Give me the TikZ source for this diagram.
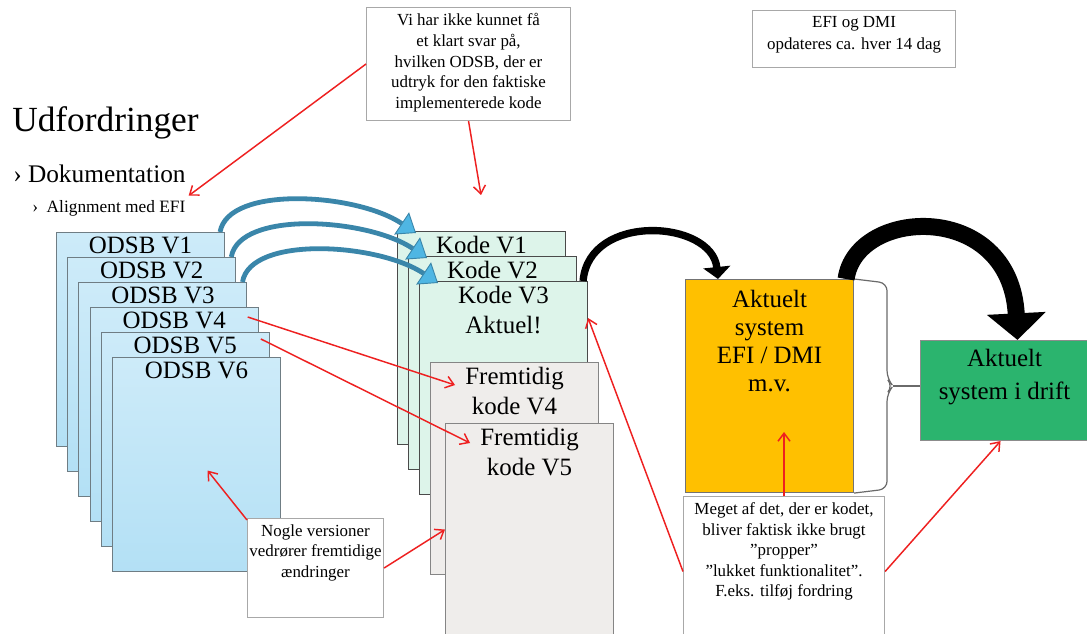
\documentclass[tikz,border=0pt]{standalone}
\usepackage{fontspec}
\setmainfont{Liberation Serif}
\usetikzlibrary{arrows.meta, calc, positioning}
\usepackage{xcolor}
\definecolor{odsbTop}{HTML}{CDEBF9}
\definecolor{odsbBottom}{HTML}{B3E0F5}
\definecolor{odsbLine}{HTML}{6F7D84}
\definecolor{kodeFill}{HTML}{DDF4EA}
\definecolor{kodeLine}{HTML}{4A4A4A}
\definecolor{futureFill}{HTML}{EFEDEB}
\definecolor{futureLine}{HTML}{858585}
\definecolor{systemOrange}{HTML}{FFC000}
\definecolor{driftGreen}{HTML}{2BB46E}
\definecolor{noteLine}{HTML}{A8A8A8}
\definecolor{braceGray}{HTML}{6A6A6A}
\definecolor{noteRed}{HTML}{EE2020}
\definecolor{bandBlue}{HTML}{3A86AA}
\definecolor{headBlue}{HTML}{4FB6E3}
\tikzset{
    boxsize/.style 2 args={minimum width=#1*0.75pt, minimum height=#2*0.75pt, inner sep=0pt},
    BoxTitle/.style={anchor=north, align=center, font=\fontsize{18.7}{22.5}\selectfont},
    NoteText/.style={anchor=north, align=center, yshift=-1.5pt, font=\fontsize{12.7}{15.4}\selectfont},
    OdsbBox/.style={draw=odsbLine, line width=0.8pt, top color=odsbTop, bottom color=odsbBottom, boxsize={168}{214}},
    KodeBox/.style={draw=kodeLine, line width=0.8pt, fill=kodeFill, boxsize={168}{213}},
    FutureBox/.style={draw=futureLine, line width=0.8pt, fill=futureFill, boxsize={168}{212}},
    SystemBox/.style={draw=black!55, line width=0.8pt, fill=systemOrange, boxsize={168}{213}},
    DriftBox/.style={draw=black!45, line width=0.8pt, fill=driftGreen, boxsize={168}{100}},
    NoteBox/.style={draw=noteLine, line width=0.8pt, fill=white},
    BlueBand/.style={draw=bandBlue, line width=3.6pt, -{Triangle[length=13pt, width=20pt, fill=headBlue, line width=0.7pt]}},
    BlackBand/.style={draw=black, line width=5.5pt, -{Triangle[length=9pt, width=20pt]}},
    BigBand/.style={draw=black, line width=12.75pt, -{Triangle[length=20pt, width=43pt]}},
    RedNote/.style={draw=noteRed, line width=1.1pt, -{Straight Barb[length=6pt, width=9pt]}}
}
\begin{document}
\begin{tikzpicture}[x=0.75pt, y=-0.75pt]
    \path[use as bounding box, fill=white] (0,0) rectangle (1087,634);

    % overskrift og punkter
    \node[anchor=base west, inner sep=0pt, font=\fontsize{26.5}{30}\selectfont] (title) at (12,132) {Udfordringer};
    \node[anchor=base west, inner sep=0pt, font=\fontsize{19}{22}\selectfont] (doc) at (13,183) {›\ Dokumentation};
    \node[anchor=base west, inner sep=0pt, font=\fontsize{13}{16}\selectfont] (alignment) at (32,213) {›\enspace Alignment med EFI};

    % ODSB stak
    \foreach \i in {1,...,6} {
        \node[OdsbBox, anchor=north west] (o\i) at ({56+11.2*(\i-1)}, {232+25*(\i-1)}) {};
        \node[BoxTitle] (ot\i) at (o\i.north) {ODSB V\i};
    }

    % kode stak
    \foreach \i/\txt in {1/{Kode V1}, 2/{Kode V2}, 3/{Kode V3\\Aktuel!}} {
        \node[KodeBox, anchor=north west] (k\i) at ({397+11*(\i-1)}, {231+25*(\i-1)}) {};
        \node[BoxTitle] (kt\i) at (k\i.north) {\txt};
    }
    \node[FutureBox, anchor=north west] (f4) at (430,362) {};
    \node[BoxTitle] (ft4) at (f4.north) {Fremtidig\\kode V4};
    \node[FutureBox, anchor=north west] (f5) at (445,423) {};
    \node[BoxTitle] (ft5) at (f5.north) {Fremtidig\\kode V5};

    % systemer
    \node[SystemBox, anchor=north west] (akt) at (685,279) {};
    \node[BoxTitle, yshift=-5pt, font=\fontsize{18.7}{21}\selectfont] (aktt) at (akt.north) {Aktuelt\\system\\EFI / DMI\\m.v.};
    \node[DriftBox, anchor=north west] (drift) at (920,340) {};
    \node[BoxTitle, yshift=-3.5pt, font=\fontsize{18.7}{24.5}\selectfont] (driftt) at (drift.north) {Aktuelt\\system i drift};

    % klamme
    \draw[braceGray, line width=0.9pt, rounded corners=6] (akt.north east) -- ++(33,4) -- ($(akt.east)+(33,-7)$)
        -- ($(akt.east)+(39,0)$) -- ($(akt.east)+(33,7)$) -- ($(akt.south east)+(33,-4)$) -- (akt.south east);
    \draw[braceGray, line width=0.9pt] ($(akt.east)+(39,0)$) -- (akt.east -| drift.west);

    % noter
    \node[NoteBox, boxsize={204}{113}, anchor=north west] (q1) at (366,7) {};
    \node[NoteText] (qt1) at (q1.north) {Vi har ikke kunnet få\\et klart svar på,\\hvilken ODSB, der er\\udtryk for den faktiske\\implementerede kode};
    \node[NoteBox, boxsize={203}{57}, anchor=north west] (q2) at (752,10) {};
    \node[NoteText, font=\fontsize{12.7}{16.3}\selectfont] (qt2) at (q2.north) {EFI og DMI\\opdateres ca. hver 14 dag};
    \node[NoteBox, boxsize={136}{99}, anchor=north west] (q3) at (247,518) {};
    \node[NoteText] (qt3) at (q3.north) {Nogle versioner\\vedrører fremtidige\\ændringer};
    \node[NoteBox, boxsize={201}{150}, anchor=north west] (q4) at (683,496) {};
    \node[NoteText] (qt4) at (q4.north) {Meget af det, der er kodet,\\bliver faktisk ikke brugt\\”propper”\\”lukket funktionalitet”.\\F.eks. tilføj fordring};

    % pile mellem stakkene
    \foreach \i in {1,2,3} {
        \draw[BlueBand] ($(o\i.north east)+(-5,0)$) .. controls +(8,-47) and +(-60,-40) .. ($(k\i.north west)+(19,2)$);
    }
    \draw[BlackBand] ($(k3.north east)+(-5,0)$) .. controls +(6,-69) and +(-6,-59) .. ($(akt.north west)+(33,0)$);
    \draw[BigBand] ($(akt.north east)+(-8,0)$) .. controls +(10,-72) and +(-7,-140) .. ($(drift.north)+(13,0)$);

    % røde henvisninger
    \coordinate (kodemark) at (481,195);
    \draw[RedNote] (q1.west) -- ($(alignment.north east)+(3,-5)$);
    \draw[RedNote] (q1.south) -- (kodemark);
    \draw[RedNote] ($(o4.north east)+(-11,10)$) -- ($(f4.north west)+(25,23)$);
    \draw[RedNote] ($(o5.north east)+(-9,7)$) -- ($(f5.north west)+(25,20)$);
    \draw[RedNote] ($(q3.north west)+(0,2)$) -- ($(o6.center)+(11,6)$);
    \draw[RedNote] (q3.east) -- (f5.west);
    \draw[RedNote] (q4.west) -- ($(k3.north east)+(0,37)$);
    \draw[RedNote] (q4.north) -- ++(0,-64);
    \draw[RedNote] (q4.east) -- ($(drift.south)+(-4,0)$);
\end{tikzpicture}
\end{document}
